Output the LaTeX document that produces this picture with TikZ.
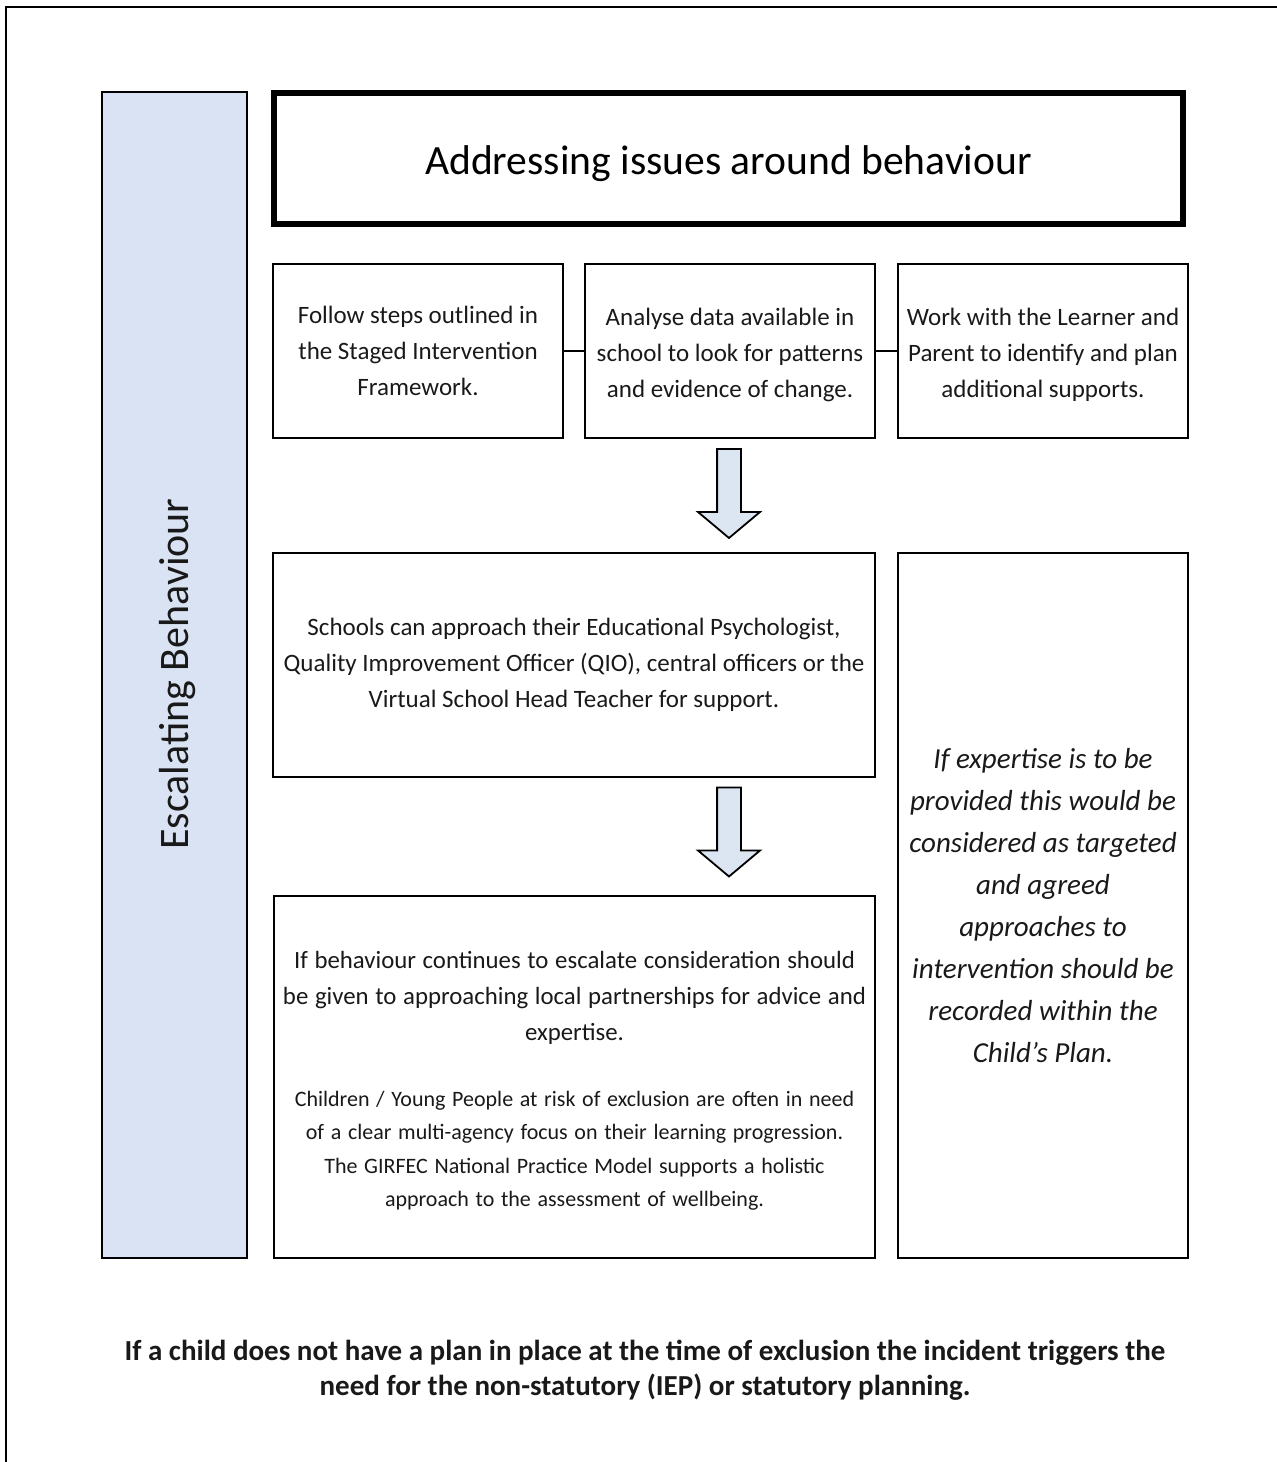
\documentclass[tikz,border=0pt]{standalone}
\usepackage{fontspec}
\setmainfont{Carlito}
\usetikzlibrary{shapes.arrows}
\definecolor{sidefill}{HTML}{DAE3F3}
\definecolor{arrowfill}{HTML}{DCE6F2}
\newcommand{\lowerfirst}[1]{\raisebox{0pt}[\dimexpr\height+4pt\relax]{#1}}

\begin{document}
\begin{tikzpicture}[%
        x=0.5pt, y=-0.5pt,
        box/.style={draw, line width=1pt, inner sep=0pt, align=center, text=black!90},
        smalltext/.style={font=\fontsize{12.5}{18}\selectfont},
        titlebox/.style={draw, line width=2.6pt, inner sep=0pt, font=\fontsize{20.8}{24}\selectfont},
        sidebar/.style={draw, line width=1.1pt, fill=sidefill, inner sep=0pt},
        downarrow/.style={single arrow, draw, line width=0.9pt, fill=arrowfill, inner sep=5.5pt,
            shape border rotate=270, minimum height=44.5pt,
            single arrow head extend=9.5pt, single arrow tip angle=100},
    ]
    \useasboundingbox (0,0) rectangle (1277,1462);
    \draw[line width=1pt] (6,1462) -- (6,7) -- (1277,7);

    \node[sidebar, minimum width=72.5pt, minimum height=583pt] (side) at (174.5,675) {};
    \node[rotate=90, font=\fontsize{21}{24}\selectfont, text=black!90] (sidelabel) at (178,674) {Escalating Behaviour};
    \node[titlebox, minimum width=454.5pt, minimum height=65.5pt, text height=20.5pt, text depth=4.5pt] (title) at (728.5,158.5) {Addressing issues around behaviour};

    \node[box, smalltext, minimum width=145pt, minimum height=87pt] (steps) at (418,351)
        {Follow steps outlined in\\the Staged Intervention\\Framework.};
    \node[box, smalltext, minimum width=145pt, minimum height=87pt] (analyse) at (730,351)
        {\lowerfirst{Analyse data available in}\\school to look for patterns\\and evidence of change.};
    \node[box, smalltext, minimum width=145pt, minimum height=87pt] (learner) at (1043,351)
        {\lowerfirst{Work with the Learner and}\\Parent to identify and plan\\additional supports.};
    \draw[line width=0.8pt] (steps) -- (analyse);
    \draw[line width=0.8pt] (analyse) -- (learner);

    \node[downarrow] (arrowa) at (729,488.5) {};

    \node[box, smalltext, minimum width=301pt, minimum height=112pt] (support) at (574,665)
        {Schools can approach their Educational Psychologist,\\Quality Improvement Officer (QIO), central officers or the\\Virtual School Head Teacher for support.};

    \node[downarrow] (arrowb) at (729,827) {};

    \node[box, minimum width=300.5pt, minimum height=181pt, text width=298pt] (escalate) at (574.5,1077)
        {{\fontsize{12.4}{18}\selectfont \lowerfirst{If} behaviour continues to escalate consideration should\\be given to approaching local partnerships for advice and\\expertise.\par}
        \vspace{16pt}
        {\fontsize{11}{16.7}\selectfont Children / Young People at risk of exclusion are often in need\\of a clear multi-agency focus on their learning progression.\\The GIRFEC National Practice Model supports a holistic\\approach to the assessment of wellbeing.\par}};

    \node[box, minimum width=145pt, minimum height=352.5pt, font=\fontsize{14.5}{21}\selectfont\itshape] (expertise) at (1043,905.5)
        {If expertise is to be\\provided this would be\\considered as targeted\\and agreed\\approaches to\\intervention should be\\recorded within the\\Child's Plan.};

    \node[align=center, font=\fontsize{14.5}{17.5}\selectfont\bfseries, text=black!90] (note) at (645,1370)
        {If a child does not have a plan in place at the time of exclusion the incident triggers the\\need for the non-statutory (IEP) or statutory planning.};
\end{tikzpicture}
\end{document}
